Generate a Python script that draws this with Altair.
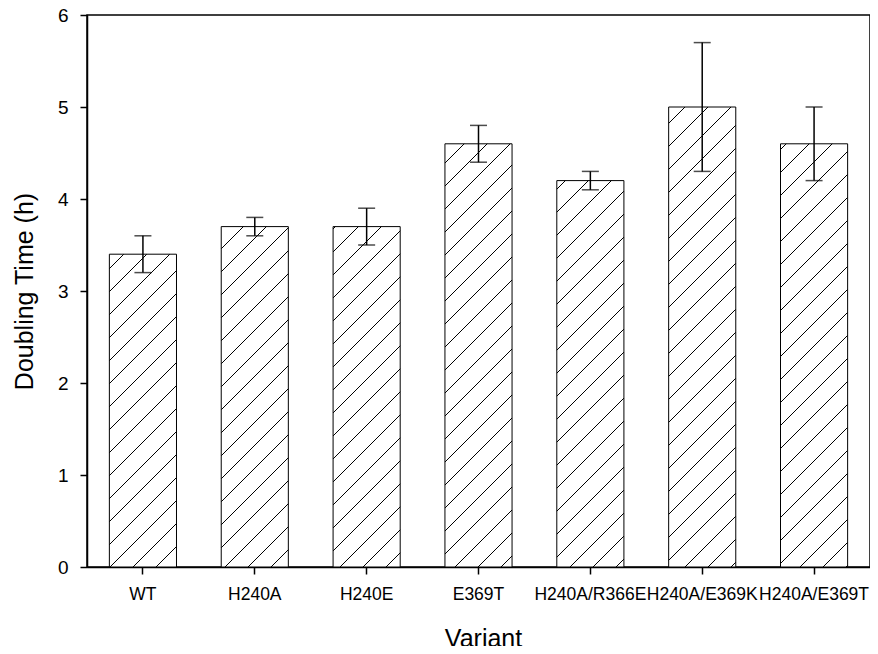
import altair as alt
import pandas as pd

variants = ["WT", "H240A", "H240E", "E369T", "H240A/R366E", "H240A/E369K", "H240A/E369T"]
means = [3.4, 3.7, 3.7, 4.6, 4.2, 5.0, 4.6]
errs = [0.2, 0.1, 0.2, 0.2, 0.1, 0.7, 0.4]
y_ticks = [0, 1, 2, 3, 4, 5, 6]

df = pd.DataFrame({"variant": variants, "mean": means, "err": errs})

FONT = "Liberation Sans"

x_enc = alt.X(
    "variant:N",
    sort=variants,
    scale=alt.Scale(paddingInner=0.4, paddingOuter=0.2),
    axis=alt.Axis(
        title="Variant",
        titleFont=FONT,
        titleFontSize=25,
        titleFontWeight="normal",
        titleColor="black",
        titleBaseline="alphabetic",
        titleAlign="center",
        titleY=79,
        titleX=396,
        labelFont=FONT,
        labelFontSize=17.5,
        labelColor="black",
        labelAngle=0,
        labelPadding=11,
        labelOverlap=False,
        labelLimit=300,
        tickSize=7,
        tickColor="black",
        tickWidth=1.5,
        domainColor="black",
        domainWidth=1.5,
    ),
)

y_scale = alt.Scale(domain=[0, 6], nice=False, zero=True)
y_axis = alt.Axis(
    title="Doubling Time (h)",
    titleFont=FONT,
    titleFontSize=25,
    titleFontWeight="normal",
    titleColor="black",
    titleBaseline="alphabetic",
    titleX=-55,
    values=y_ticks,
    format="d",
    labelFont=FONT,
    labelFontSize=19,
    labelColor="black",
    labelPadding=12,
    tickSize=7,
    tickColor="black",
    tickWidth=1.5,
    domainColor="black",
    domainWidth=1.5,
    grid=False,
)

base = alt.Chart(df).transform_calculate(
    lo="datum.mean - datum.err", hi="datum.mean + datum.err"
)

bars = base.mark_bar(fill="url(#hatch)", stroke="black", strokeWidth=1).encode(
    x=x_enc,
    y=alt.Y("mean:Q", scale=y_scale, axis=y_axis),
)

err_rule = base.mark_rule(color="black", strokeWidth=1.5).encode(
    x=alt.X("variant:N", sort=variants),
    y=alt.Y("lo:Q"),
    y2="hi:Q",
)

cap_hi = base.mark_tick(color="black", size=17, thickness=1.5, orient="horizontal").encode(
    x=alt.X("variant:N", sort=variants),
    y=alt.Y("hi:Q"),
)
cap_lo = base.mark_tick(color="black", size=17, thickness=1.5, orient="horizontal").encode(
    x=alt.X("variant:N", sort=variants),
    y=alt.Y("lo:Q"),
)

chart = (
    alt.layer(bars, err_rule, cap_hi, cap_lo)
    .properties(
        width=783,
        height=552,
        autosize=alt.AutoSizeParams(type="none"),
        padding={"left": 79, "top": 7, "right": 0, "bottom": 79},
        background="white",
    )
    .configure_view(stroke="black", strokeWidth=1.5)
    .configure_axis(grid=False)
)

chart.save("out.html", embed_options={"renderer": "svg", "actions": False})

# hatch pattern used as the bars' fill
with open("out.html", encoding="utf-8") as f:
    html = f.read()
defs = (
    '<svg width="0" height="0" style="position:absolute">'
    '<defs><pattern id="hatch" patternUnits="userSpaceOnUse" width="23" height="23">'
    '<rect width="23" height="23" fill="white"/>'
    '<path d="M0,23 L23,0 M-2,2 L2,-2 M21,25 L25,21" stroke="black" stroke-width="1" fill="none"/>'
    '</pattern></defs></svg>'
)
html = html.replace("<body>", "<body>\n" + defs, 1)
with open("out.html", "w", encoding="utf-8") as f:
    f.write(html)
